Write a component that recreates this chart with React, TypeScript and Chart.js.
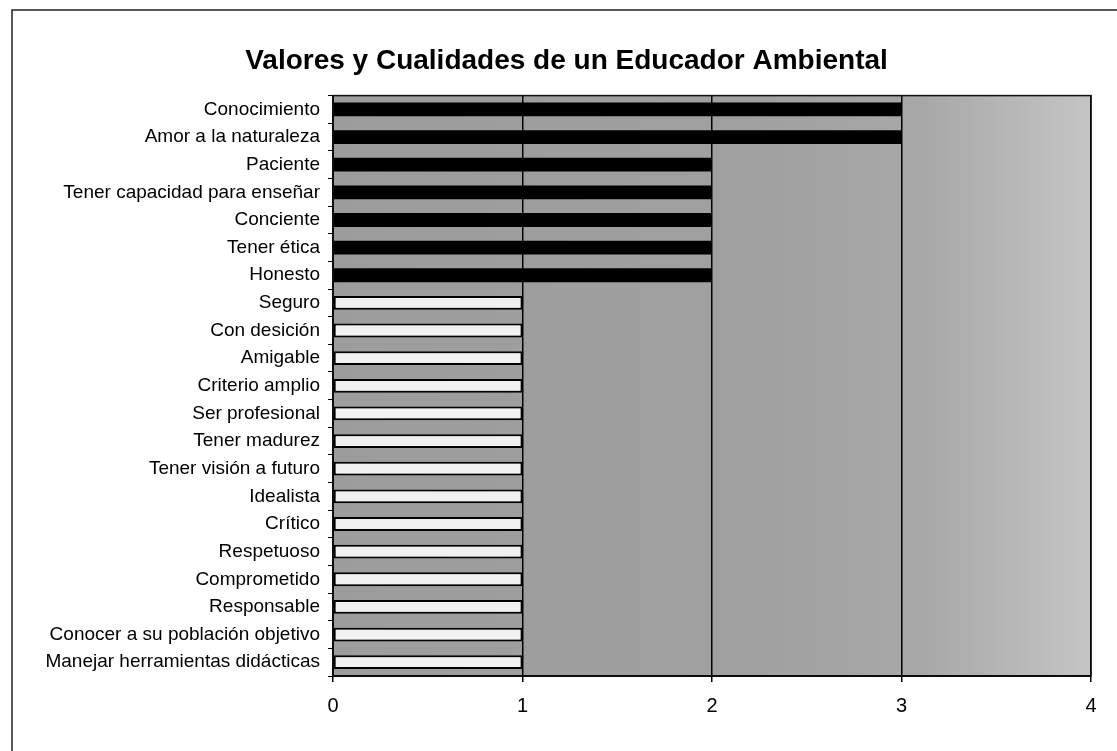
import React, { useEffect, useRef } from "react";
import { Chart, registerables } from "chart.js";

Chart.register(...registerables);

const titleText = "Valores y Cualidades de un Educador Ambiental";

const categories = [
  "Conocimiento",
  "Amor a la naturaleza",
  "Paciente",
  "Tener capacidad para enseñar",
  "Conciente",
  "Tener ética",
  "Honesto",
  "Seguro",
  "Con desición",
  "Amigable",
  "Criterio amplio",
  "Ser profesional",
  "Tener madurez",
  "Tener visión a futuro",
  "Idealista",
  "Crítico",
  "Respetuoso",
  "Comprometido",
  "Responsable",
  "Conocer a su población objetivo",
  "Manejar herramientas didácticas",
];

const values = [3, 3, 2, 2, 2, 2, 2, 1, 1, 1, 1, 1, 1, 1, 1, 1, 1, 1, 1, 1, 1];

const xMin = 0;
const xMax = 4;
const xStep = 1;

const FONT = "'Liberation Sans', Arial, Helvetica, sans-serif";

const plotBackground = {
  id: "plotBackground",
  beforeDraw(chart: any) {
    const { ctx, chartArea } = chart;
    if (!chartArea) return;
    const { left, top, right, bottom } = chartArea;
    ctx.save();
    const g = ctx.createLinearGradient(left, 0, right, 0);
    g.addColorStop(0, "#9c9c9c");
    g.addColorStop(0.55, "#a0a0a0");
    g.addColorStop(0.78, "#a8a8a8");
    g.addColorStop(1, "#c4c4c4");
    ctx.fillStyle = g;
    ctx.fillRect(left, top, right - left, bottom - top);
    ctx.restore();
  },
  afterDatasetsDraw(chart: any) {
    const { ctx, chartArea } = chart;
    const { left, top, right, bottom } = chartArea;
    ctx.save();
    ctx.strokeStyle = "#111";
    ctx.lineWidth = 1.5;
    ctx.strokeRect(left, top, right - left, bottom - top);
    ctx.restore();
  },
  afterDraw(chart: any) {
    const { ctx } = chart;
    ctx.save();
    ctx.strokeStyle = "#222";
    ctx.lineWidth = 1.5;
    ctx.beginPath();
    ctx.moveTo(12, chart.height);
    ctx.lineTo(12, 10);
    ctx.lineTo(chart.width, 10);
    ctx.stroke();
    ctx.restore();
  },
};

export default function App() {
  const ref = useRef<HTMLCanvasElement>(null);

  useEffect(() => {
    if (!ref.current) return;
    const chart = new Chart(ref.current, {
      type: "bar",
      data: {
        labels: categories,
        datasets: [
          {
            data: values,
            backgroundColor: (c: any) => (values[c.dataIndex] >= 2 ? "#000000" : "#f1f1f1"),
            borderColor: "#000000",
            borderWidth: (c: any) => (values[c.dataIndex] >= 2 ? 0 : 2),
            borderSkipped: false,
            barPercentage: 0.5,
            categoryPercentage: 1,
          },
        ],
      },
      options: {
        indexAxis: "y",
        responsive: false,
        animation: false,
        layout: { padding: { top: 44, right: 26, bottom: 0, left: 42 } },
        plugins: {
          legend: { display: false },
          tooltip: { enabled: false },
          title: {
            display: true,
            text: titleText,
            color: "#000",
            font: { family: FONT, size: 28, weight: "bold" },
            padding: { top: 0, bottom: 18 },
          },
        },
        scales: {
          x: {
            type: "linear",
            min: xMin,
            max: xMax,
            ticks: {
              stepSize: xStep,
              color: "#000",
              padding: 12,
              font: { family: FONT, size: 20 },
            },
            grid: {
              color: "#000",
              lineWidth: 1.5,
              tickLength: 6,
              drawTicks: true,
            },
            border: { color: "#000", width: 2 },
            afterFit: (s: any) => {
              s.height = 75;
            },
          },
          y: {
            type: "category",
            ticks: {
              color: "#000",
              padding: 8,
              autoSkip: false,
              font: { family: FONT, size: 19 },
            },
            grid: {
              drawOnChartArea: false,
              drawTicks: true,
              tickLength: 5,
              color: "#000",
              offset: true,
            },
            border: { color: "#000", width: 2 },
            afterFit: (s: any) => {
              s.width = 291;
            },
          },
        },
      },
      plugins: [plotBackground],
    });
    return () => chart.destroy();
  }, []);

  return (
    <div style={{ position: "fixed", left: 0, top: 0, width: 1117, height: 751, background: "#fff" }}>
      <canvas ref={ref} width={1117} height={751} style={{ display: "block" }} />
    </div>
  );
}
